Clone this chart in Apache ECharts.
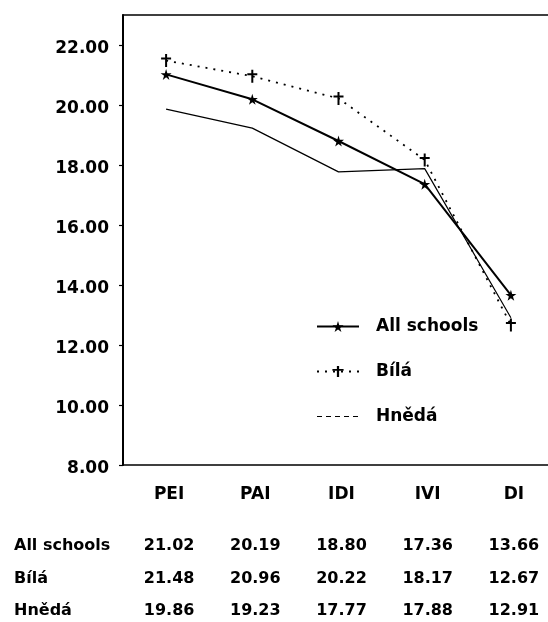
<!DOCTYPE html>
<html>
<head>
<meta charset="utf-8">
<style>
  html, body { margin: 0; padding: 0; background: #fff; }
  #chart { width: 548px; height: 622px; }
</style>
<script src="https://cdn.jsdelivr.net/npm/echarts@6/dist/echarts.min.js"></script>
</head>
<body>
<div id="chart"></div>
<script>
const categories = ['PEI', 'PAI', 'IDI', 'IVI', 'DI']
const allSchools = [21.02, 20.19, 18.80, 17.36, 13.66]
const bila = [21.48, 20.96, 20.22, 18.17, 12.67]
const hneda = [19.86, 19.23, 17.77, 17.88, 12.91]
const rowNames = ['All schools', 'Bílá', 'Hnědá']

const font = 'DejaVu Sans'
const starPath = 'path://M50,0 L61,35 L98,35 L68,57 L79,91 L50,70 L21,91 L32,57 L2,35 L39,35 Z'
const plusPath = 'path://M4,0 H6 V13 H4 Z M0,3.5 H10 V5.5 H0 Z'

// table rows under the chart, one extra category axis per row
function tableAxis(name, values, offset) {
  return {
    type: 'category',
    data: values.map(v => v.toFixed(2)),
    position: 'bottom',
    offset: offset,
    axisLine: { show: false },
    axisTick: { show: false },
    axisLabel: { margin: 0, color: '#000', fontFamily: font, fontWeight: 'bold', fontSize: 16, padding: [0, 0, 0, 6] },
    name: name,
    nameLocation: 'start',
    nameGap: 109,
    nameTextStyle: { align: 'left', verticalAlign: 'top', color: '#000', fontFamily: font, fontWeight: 'bold', fontSize: 16 }
  }
}

const chart = echarts.init(document.getElementById('chart'))
chart.setOption({
  animation: false,
  backgroundColor: '#fff',
  grid: {
    left: 123, top: 15, width: 431, height: 450,
    outerBoundsMode: 'none',
    show: false
  },
  legend: {
    orient: 'vertical',
    left: 311,
    top: 313,
    itemWidth: 42,
    itemHeight: 14,
    itemGap: 28,
    textStyle: { color: '#000', fontFamily: font, fontWeight: 'bold', fontSize: 17, padding: [0, 0, 0, 12] },
    data: [
      { name: 'All schools' },
      { name: 'Bílá' },
      { name: 'Hnědá', lineStyle: { type: [5, 4], width: 1 }, itemStyle: { opacity: 0 } }
    ]
  },
  xAxis: [
    {
      type: 'category',
      data: categories,
      axisLine: { lineStyle: { color: '#000', width: 1.5 } },
      axisTick: { alignWithLabel: true, length: 5, lineStyle: { color: '#000', width: 1.2 } },
      axisLabel: { margin: 21, color: '#000', fontFamily: font, fontWeight: 'bold', fontSize: 17, padding: [0, 0, 0, 6] }
    },
    tableAxis(rowNames[0], allSchools, 73),
    tableAxis(rowNames[1], bila, 106),
    tableAxis(rowNames[2], hneda, 138),
    {
      // top frame line
      type: 'category',
      data: categories,
      position: 'top',
      axisLine: { lineStyle: { color: '#000', width: 1.5 } },
      axisTick: { show: false },
      axisLabel: { show: false }
    }
  ],
  yAxis: {
    type: 'value',
    min: 8,
    max: 23,
    interval: 2,
    axisLine: { show: true, lineStyle: { color: '#000', width: 2 } },
    axisTick: { show: true, length: 4, lineStyle: { color: '#000', width: 1.2 } },
    splitLine: { show: false },
    axisLabel: {
      showMaxLabel: false,
      margin: 14,
      color: '#000',
      fontFamily: font,
      fontWeight: 'bold',
      fontSize: 17,
      verticalAlign: 'top',
      lineHeight: 8,
      formatter: v => v.toFixed(2)
    }
  },
  series: [
    {
      name: 'All schools',
      type: 'line',
      data: allSchools,
      symbol: starPath,
      symbolSize: 11,
      itemStyle: { color: '#000' },
      lineStyle: { color: '#000', width: 2 },
      z: 3
    },
    {
      name: 'Bílá',
      type: 'line',
      data: bila,
      symbol: plusPath,
      symbolSize: [10, 13],
      itemStyle: { color: '#000' },
      lineStyle: { color: '#000', width: 1.8, type: [2, 6] }
    },
    {
      name: 'Hnědá',
      type: 'line',
      data: hneda,
      symbol: 'none',
      itemStyle: { color: '#000' },
      lineStyle: { color: '#000', width: 1.2 }
    }
  ]
})
</script>
</body>
</html>
